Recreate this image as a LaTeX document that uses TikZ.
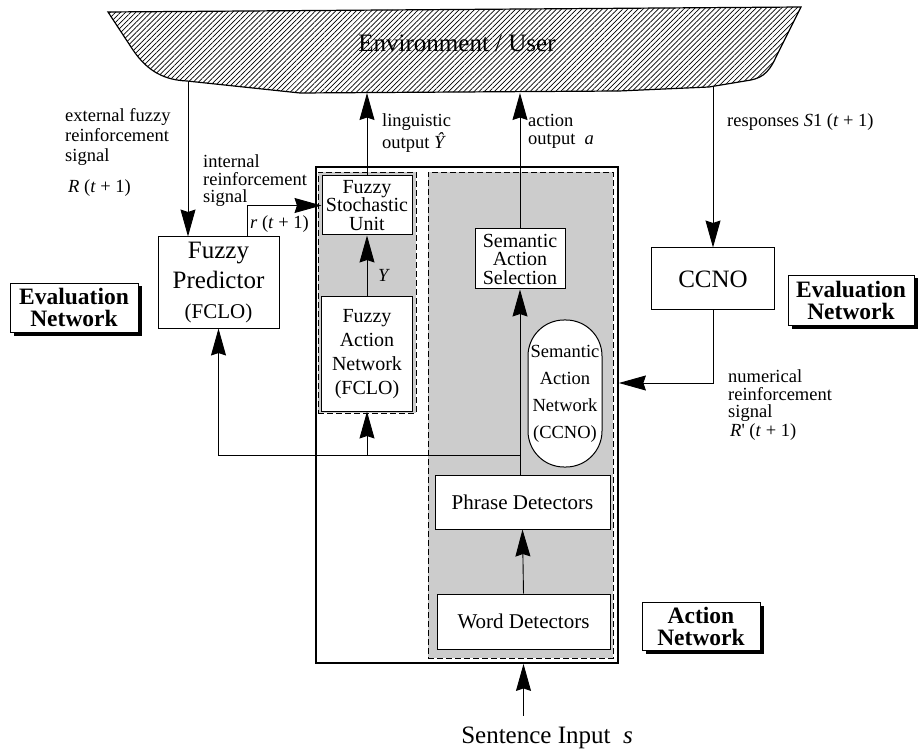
\documentclass[tikz,border=0pt]{standalone}
\usepackage{fontspec}
\setmainfont{Liberation Serif}
\usetikzlibrary{arrows.meta,patterns.meta,shadows}
\newcommand{\fsz}[2]{\fontsize{#1}{#2}\selectfont}
\tikzset{
  blk/.style={draw,line width=1pt,fill=white,inner sep=0pt,align=center,font=\fsz{20}{18.5}},
  grp/.style={draw,dash pattern=on 6pt off 3pt,line width=0.7pt,fill=black!20,inner sep=0pt},
  outer/.style={draw,line width=1.8pt,fill=white,inner sep=0pt},
  netlbl/.style={draw,fill=white,line width=0.7pt,inner sep=0pt,align=center,font=\fsz{23.5}{22}\bfseries,
    drop shadow={shadow xshift=3.5pt,shadow yshift=-3.5pt,opacity=1,fill=black}},
  sig/.style={inner sep=0pt,anchor=west,align=left,font=\fsz{18.5}{20}},
  fl/.style={line width=0.9pt,-{Stealth[length=27pt,width=15pt,inset=2.5pt]}},
  ln/.style={line width=0.9pt},
}

\begin{document}
\begin{tikzpicture}[x=1pt,y=-1pt]
\useasboundingbox (0,0) rectangle (919,754);
% environment
\draw[line width=1.2pt,pattern={Lines[angle=45,distance=3.6pt,line width=0.7pt]}] (108,12) -- (801,7) -- (776,57) .. controls (768,75) and (760,79) .. (745,81) -- (709,87) -- (619,91) -- (300,93) -- (187,81) .. controls (165,80) and (148,72) .. (133,50) -- cycle;
\node[font=\fsz{25}{25}] (env) at (457,43) {Environment / User};
\coordinate (envA) at (188,81);
\coordinate (envL) at (367,93);
\coordinate (envR) at (520,93);
\coordinate (envS) at (713,87);
% action network
\node[outer,minimum width=302pt,minimum height=496pt] (act) at (467,415) {};
\node[grp,minimum width=98pt,minimum height=241pt] (fgrp) at (367,292.5) {};
\node[grp,minimum width=185pt,minimum height=486pt] (sgrp) at (520.5,415) {};
\node[blk,minimum width=90pt,minimum height=59pt] (fsu) at (367,205.5) {Fuzzy\\Stochastic\\Unit};
\node[blk,minimum width=91pt,minimum height=114pt,font=\fsz{20}{24}] (fan) at (367,354) {Fuzzy\\Action\\Network\\(FCLO)};
\node[blk,minimum width=90pt,minimum height=60pt] (sas) at (520,259) {Semantic\\Action\\Selection};
\node[blk,rounded corners=36pt,minimum width=74pt,minimum height=147pt,font=\fsz{18.5}{27}] (san) at (565,393.5) {Semantic\\Action\\Network\\(CCNO)};
\node[blk,minimum width=175pt,minimum height=54pt,font=\fsz{21}{21}] (phr) at (522.5,502) {Phrase Detectors};
\node[blk,minimum width=173pt,minimum height=55pt,font=\fsz{21}{21}] (wrd) at (523.5,621.5) {Word Detectors};
% evaluation network
\node[blk,minimum width=121pt,minimum height=91pt,font=\fsz{25}{30}] (fpred) at (218.5,282.5) {Fuzzy\\Predictor\\{\fsz{21}{30}(FCLO)}};
\node[blk,minimum width=123pt,minimum height=62pt,font=\fsz{25}{25}] (ccno) at (713,279) {CCNO};
\node[netlbl,minimum width=128pt,minimum height=49pt] (evl) at (74,307.5) {Evaluation\\Network};
\node[netlbl,minimum width=126pt,minimum height=50pt] (evr) at (851,300) {Evaluation\\Network};
\node[netlbl,minimum width=118pt,minimum height=48pt] (actl) at (701,626) {Action\\Network};
\node[font=\fsz{25}{25}] (sent) at (547,738) {Sentence Input\ \ \textit{s}};
% signal labels
\node[sig] (ext) at (65,137) {external fuzzy\\reinforcement\\signal};
\node[sig] (rext) at (68,188) {\textit{R} (\textit{t} + 1)};
\node[sig,font=\fsz{18.5}{17.5}] (intl) at (203,181) {internal\\reinforcement\\signal};
\node[sig] (rint) at (250,224) {\textit{r} (\textit{t} + 1)};
\node[sig,font=\fsz{18.5}{22}] (ling) at (382,133) {linguistic\\output \textit{Ŷ}};
\node[sig,font=\fsz{18.5}{18}] (acto) at (528,131) {action\\output \ \textit{a}};
\node[sig] (resp) at (727,122) {responses \textit{S}1 (\textit{t} + 1)};
\node[sig,font=\fsz{18.5}{17.5}] (num) at (728,396) {numerical\\reinforcement\\signal};
\node[sig] (rnum) at (730,432) {\textit{R}\textquotesingle{} (\textit{t} + 1)};
\node[sig] (ylab) at (378,275) {\textit{Y}};
% connectors
\coordinate (jn) at (520,455);
\coordinate (cin) at (713,383);
\draw[fl] (envA) -- (envA |- fpred.north);
\draw[fl] ([xshift=28.5pt]fpred.north) |- (fsu.west);
\draw[fl] (fsu.north) -- (envL);
\draw[fl] (sas.north) -- (envR);
\draw[fl] (envS) -- (ccno.north);
\draw[fl] (ccno.south) -- (cin) -- (cin -| act.east);
\draw[fl] (fan.north) -- (fsu.south);
\draw[fl] (jn |- phr.north) -- (sas.south);
\draw[fl] (jn) -| (fpred.south);
\draw[fl] (fan.south |- jn) -- (fan.south);
\draw[fl] (wrd.north) -- (phr.south);
\draw[fl] ([yshift=8pt]wrd.south |- sent.north) -- (wrd.south |- act.south);
\end{tikzpicture}
\end{document}
